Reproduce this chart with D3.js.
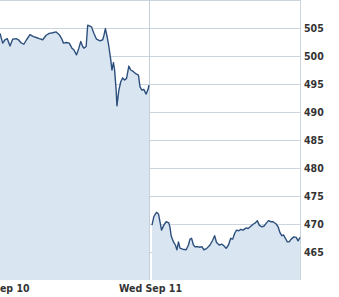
<!DOCTYPE html>
<html><head><meta charset="utf-8">
<script src="https://cdn.jsdelivr.net/npm/d3@7"></script>
<style>html,body{margin:0;padding:0;background:#fff;}svg{display:block;}</style>
</head><body>
<svg id="c" width="339" height="297"></svg>
<script>
// Minutes since 09:30 open and price, per session
const sep10Minutes = [0,7,13,19,26,33,42,48,54,62,69,78,87,94,102,111,120,128,137,146,154,161,165,173,180,187,192,199,205,210,215,218,224,228,238,244,251,260,267,270,274,279,283,288,291,295,298,302,304,309,314,319,324,329,335,340,347,354,360,364,369,374,380,385,390];
const sep10Values = [504.05,502.3,502.9,503.1,501.8,503.0,503.1,502.9,502.4,502.1,502.9,503.8,503.45,503.3,503.1,502.9,503.7,504.05,504.15,504.3,503.8,503.0,502.3,502.4,502.3,501.4,501.1,500.2,501.4,502.6,501.7,501.4,501.7,505.5,505.2,504.05,503.0,502.7,502.9,503.6,504.9,503.3,501.7,499.3,497.5,498.8,497.5,493.9,491.1,493.9,495.4,496.1,495.7,496.0,498.2,497.5,497.2,496.8,496.6,494.5,493.9,494.05,493.2,494.05,494.8];
const sep11Minutes = [4,10,17,22,26,30,36,42,49,52,55,61,66,70,74,78,85,94,100,104,108,113,117,123,130,135,140,147,156,163,168,173,180,187,192,198,204,210,215,220,225,231,236,242,250,255,262,269,274,279,284,290,296,303,308,315,320,328,333,338,343,347,352,357,362,367,374,380,385,390];
const sep11Values = [469.8,471.3,472.1,471.8,470.4,468.9,469.8,470.4,470.2,469.4,467.9,466.8,466.25,465.4,466.8,465.7,465.5,465.4,466.25,467.3,467.45,466.25,465.95,465.95,465.85,465.95,465.4,465.6,466.25,467.1,467.9,466.7,466.25,466.4,466.1,465.65,466.25,467.45,467.3,468.3,468.9,468.8,469.05,468.9,469.3,469.2,469.6,470.0,470.2,470.6,469.8,469.5,469.6,470.2,470.6,470.4,470.4,470.0,469.5,468.45,467.9,468.05,467.45,466.8,466.8,467.3,467.7,467.6,467.0,467.6];
const dayLabels = ["Tue Sep 10","Wed Sep 11"];
const yTicks = [465,470,475,480,485,490,495,500,505];
const SESSION = 390;

const svg = d3.select("#c");
const W = 300, H = 280;
const x = d3.scaleLinear().domain([0, 2]).range([0, W]);
const y = d3.scaleLinear().domain([460, 510]).range([H, 0]);
const FONT = "'DejaVu Sans Condensed', 'DejaVu Sans', Verdana, sans-serif";

// grid
svg.append("g").selectAll("line").data(yTicks).join("line")
  .attr("x1", 0).attr("x2", W).attr("y1", d => Math.round(y(d)) + 0.5).attr("y2", d => Math.round(y(d)) + 0.5)
  .attr("stroke", "#cbd5dd").attr("stroke-width", 1);
svg.append("line").attr("x1", 0).attr("x2", W).attr("y1", 0.5).attr("y2", 0.5).attr("stroke", "#cbd5dd");
svg.append("line").attr("x1", W + 0.5).attr("x2", W + 0.5).attr("y1", 0).attr("y2", H).attr("stroke", "#cbd5dd");
svg.append("line").attr("x1", x(1) - 0.5).attr("x2", x(1) - 0.5).attr("y1", 0).attr("y2", H).attr("stroke", "#c5d0d9");

const sessions = [
  {day: 0, pts: sep10Minutes.map((m, i) => [m, sep10Values[i]])},
  {day: 1, pts: sep11Minutes.map((m, i) => [m, sep11Values[i]])}
];
const px = (s, m) => s.day === 1 ? Math.max(x(1 + m / SESSION), x(1) + 2) : Math.min(x(m / SESSION), x(1) - 1);

sessions.forEach(s => {
  const area = d3.area().x(d => px(s, d[0])).y0(H).y1(d => y(d[1]));
  const line = d3.line().x(d => px(s, d[0])).y(d => y(d[1]));
  svg.append("path").attr("d", area(s.pts)).attr("fill", "#d7e5f1").attr("fill-opacity", 0.95);
  svg.append("path").attr("d", line(s.pts)).attr("fill", "none").attr("stroke", "#2c4f7c").attr("stroke-width", 1.4).attr("stroke-linejoin", "round");
});

// y axis labels (right)
const yAxis = d3.axisRight(y).tickValues(yTicks).tickSize(0).tickPadding(4);
const ga = svg.append("g").attr("transform", `translate(${W},0)`).call(yAxis);
ga.select(".domain").remove();
ga.selectAll("text").attr("font-family", FONT).attr("font-weight", "bold").attr("font-size", "10.5px").attr("fill", "#333");

// x axis labels
const xAxis = d3.axisBottom(x).tickValues([0, 1]).tickFormat((d, i) => dayLabels[i]).tickSize(0).tickPadding(5);
const gx = svg.append("g").attr("transform", `translate(0,${H})`).call(xAxis);
gx.select(".domain").remove();
gx.selectAll("text").attr("font-family", FONT).attr("font-weight", "bold").attr("font-size", "10.5px").attr("fill", "#333");
</script>
</body></html>
